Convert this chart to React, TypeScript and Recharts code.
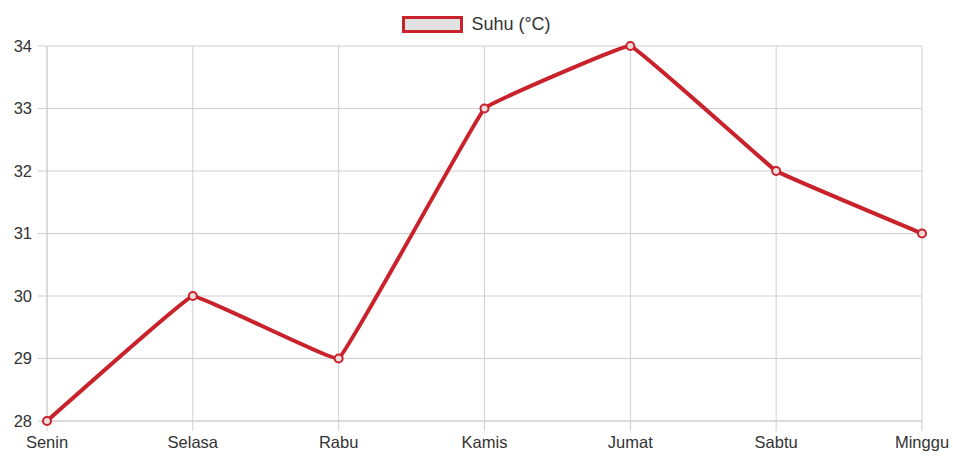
import { CartesianGrid, Legend, Line, LineChart, XAxis, YAxis } from 'recharts'

const hari = ['Senin', 'Selasa', 'Rabu', 'Kamis', 'Jumat', 'Sabtu', 'Minggu']
const suhu = [28, 30, 29, 33, 34, 32, 31]
const yTicks = [28, 29, 30, 31, 32, 33, 34]

const RED = '#c9222b'
const GRID = '#cfcfcf'
const FONT = '"Liberation Sans", Arial, sans-serif'

const data = hari.map((h, i) => ({ hari: h, suhu: suhu[i] }))

// chart.js style spline (small tension) as a d3 curve factory
function tensionCurve(t: number) {
  return (ctx: any) => {
    let pts: [number, number][] = []
    return {
      areaStart() {},
      areaEnd() {},
      lineStart() {
        pts = []
      },
      point(x: number, y: number) {
        pts.push([+x, +y])
      },
      lineEnd() {
        if (!pts.length) return
        const n = pts.length
        const cp = pts.map((cur, i) => {
          const prev = pts[Math.max(0, i - 1)]
          const next = pts[Math.min(n - 1, i + 1)]
          const d01 = Math.hypot(cur[0] - prev[0], cur[1] - prev[1])
          const d12 = Math.hypot(next[0] - cur[0], next[1] - cur[1])
          const sum = d01 + d12 || 1
          const fa = (t * d01) / sum
          const fb = (t * d12) / sum
          return {
            prev: [cur[0] - fa * (next[0] - prev[0]), cur[1] - fa * (next[1] - prev[1])],
            next: [cur[0] + fb * (next[0] - prev[0]), cur[1] + fb * (next[1] - prev[1])],
          }
        })
        ctx.moveTo(pts[0][0], pts[0][1])
        for (let i = 1; i < n; i++) {
          const a = cp[i - 1].next
          const b = cp[i].prev
          ctx.bezierCurveTo(a[0], a[1], b[0], b[1], pts[i][0], pts[i][1])
        }
      },
    }
  }
}

function LegendBox() {
  return (
    <div
      style={{
        display: 'flex',
        justifyContent: 'center',
        alignItems: 'center',
        fontFamily: FONT,
        fontSize: 18,
        color: '#333',
        height: 20,
      }}
    >
      <span
        style={{
          display: 'inline-block',
          width: 55,
          height: 11,
          background: '#e2e2e2',
          border: `3px solid ${RED}`,
          marginRight: 8,
        }}
      />
      <span>Suhu (°C)</span>
    </div>
  )
}

export default function App() {
  return (
    <div style={{ position: 'absolute', left: 0, top: 0, background: '#fff' }}>
      <LineChart
        width={953}
        height={457}
        data={data}
        margin={{ top: 26, right: 31, left: 0, bottom: 0 }}
      >
        <CartesianGrid stroke={GRID} strokeWidth={1} />
        <Legend
          verticalAlign="top"
          align="center"
          height={20}
          wrapperStyle={{ top: 14, left: 0, width: 953 }}
          content={() => <LegendBox />}
        />
        <XAxis
          dataKey="hari"
          height={36}
          tickSize={10}
          tickMargin={5}
          stroke={GRID}
          tick={{ fill: '#333', fontSize: 16.5, fontFamily: FONT }}
          interval={0}
        />
        <YAxis
          domain={[28, 34]}
          ticks={yTicks}
          width={47}
          tickSize={9}
          tickMargin={6}
          stroke={GRID}
          tick={{ fill: '#333', fontSize: 16.5, fontFamily: FONT }}
        />
        <Line
          type={tensionCurve(0.05) as any}
          dataKey="suhu"
          stroke={RED}
          strokeWidth={4}
          dot={{ r: 4, stroke: RED, strokeWidth: 2, fill: '#eedcdc' }}
          isAnimationActive={false}
        />
      </LineChart>
    </div>
  )
}
